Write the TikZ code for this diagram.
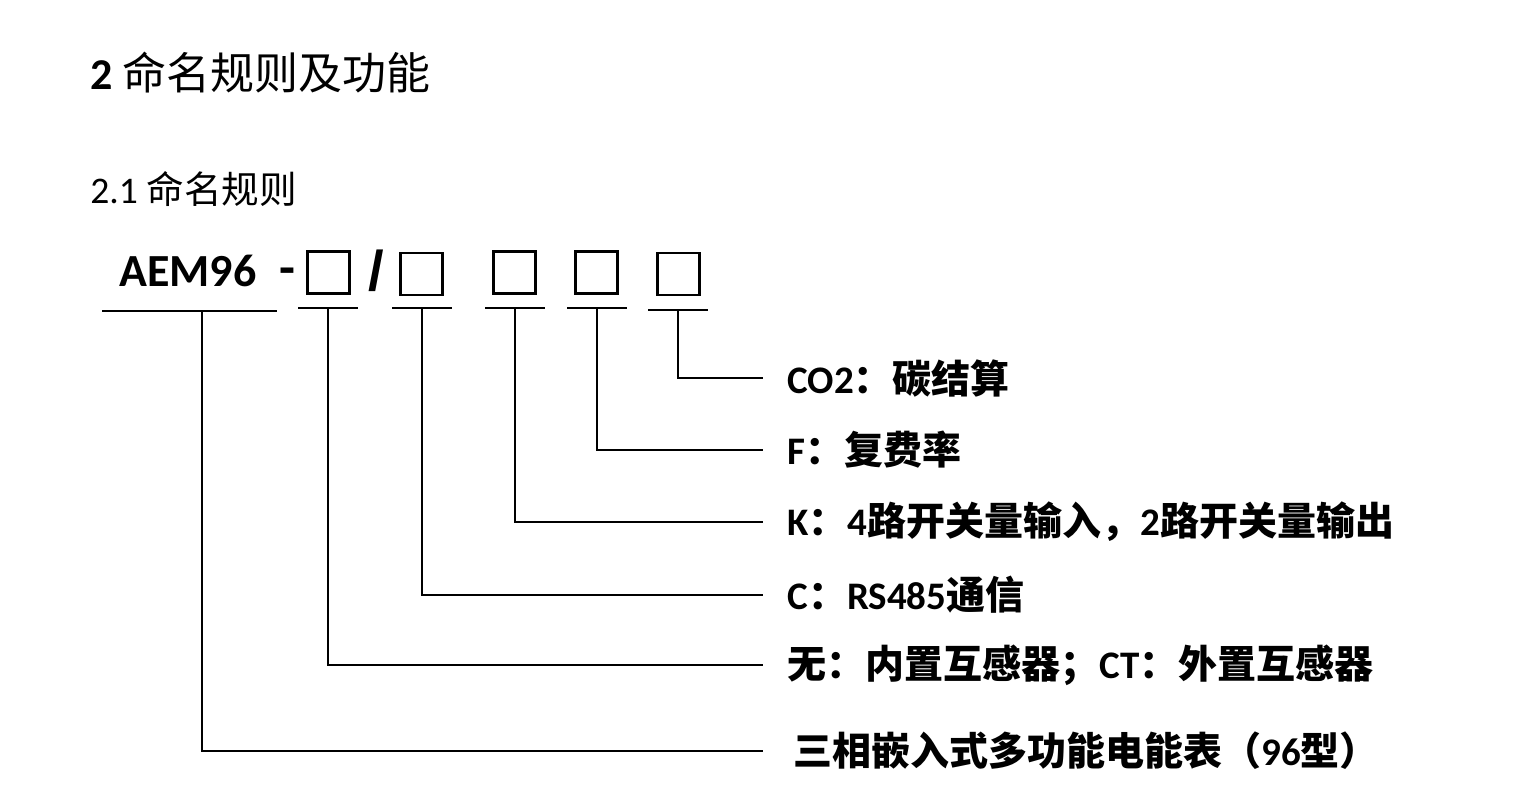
\documentclass[tikz,border=0pt]{standalone}
\usepackage{fontspec}
\setmainfont{Carlito}
\newfontfamily\cjk{Noto Sans CJK SC}
\newfontfamily\arialf{Liberation Sans}
\usetikzlibrary{positioning}
\newcommand\zh[1]{{\cjk #1}}
\tikzset{
  headtxt/.style={anchor=base west, inner sep=0pt, font=\fontsize{22}{26}\selectfont},
  subtxt/.style={anchor=base west, inner sep=0pt, font=\fontsize{18.8}{22}\selectfont},
  codetxt/.style={anchor=base west, inner sep=0pt, font=\bfseries\fontsize{23}{27}\selectfont},
  slot/.style={draw, line width=1.3pt, minimum size=21pt, inner sep=0pt},
  bar/.style={line width=1pt},
  lead/.style={line width=1pt},
  desc/.style={anchor=west, inner xsep=12pt, inner ysep=0pt,
    font=\bfseries\fontsize{19.5}{23}\selectfont}
}

\begin{document}
\begin{tikzpicture}[x=0.5pt, y=-0.5pt]
    \useasboundingbox (0,0) rectangle (1528,789);

    % headings
    \node[headtxt] (head) at (90,89) {\textbf{2} \zh{命名规则及功能}};
    \node[subtxt] (sub) at (90,203) {2.1 \zh{命名规则}};

    % model code
    \node[codetxt] (code) at (119,286) {AEM96};
    \node[codetxt,anchor=base,font=\bfseries\fontsize{26}{30}\selectfont] (dash) at (287,285) {-};
    \node[slot] (s1) at (328.5,272.5) {};
    \node[codetxt,anchor=base,font=\arialf\bfseries\fontsize{28}{32}\selectfont] (slash) at (376,290) {/};
    \node[slot] (s2) at (421.5,274) {};
    \node[slot] (s3) at (514.5,272.5) {};
    \node[slot] (s4) at (596.5,272.5) {};
    \node[slot] (s5) at (678.5,274) {};

    % underlines
    \draw[bar] (102,311) -- (277,311);
    \draw[bar] (298,308) -- (358,308);
    \draw[bar] (392,308) -- (452,308);
    \draw[bar] (485,308) -- (545,308);
    \draw[bar] (567,308) -- (627,308);
    \draw[bar] (648,310) -- (708,310);
    \coordinate (m1) at (202,311);
    \coordinate (m2) at (328,308);
    \coordinate (m3) at (422,308);
    \coordinate (m4) at (515,308);
    \coordinate (m5) at (597,308);
    \coordinate (m6) at (678,310);

    % descriptions
    \node[desc] (d6) at (763,378) {CO2\zh{：碳结算}};
    \node[desc] (d5) at (763,450) {F\zh{：复费率}};
    \node[desc] (d4) at (763,522) {K\zh{：}4\zh{路开关量输入，}2\zh{路开关量输出}};
    \node[desc] (d3) at (763,595) {C\zh{：}RS485\zh{通信}};
    \node[desc] (d2) at (763,665) {\zh{无：内置互感器；}CT\zh{：外置互感器}};
    \node[desc,inner xsep=15pt] (d1) at (763,751) {\zh{三相嵌入式多功能电能表（}96\zh{型）}};

    \draw[lead] (m6) |- (d6.west);
    \draw[lead] (m5) |- (d5.west);
    \draw[lead] (m4) |- (d4.west);
    \draw[lead] (m3) |- (d3.west);
    \draw[lead] (m2) |- (d2.west);
    \draw[lead] (m1) |- (d1.west);
  \end{tikzpicture}
\end{document}
